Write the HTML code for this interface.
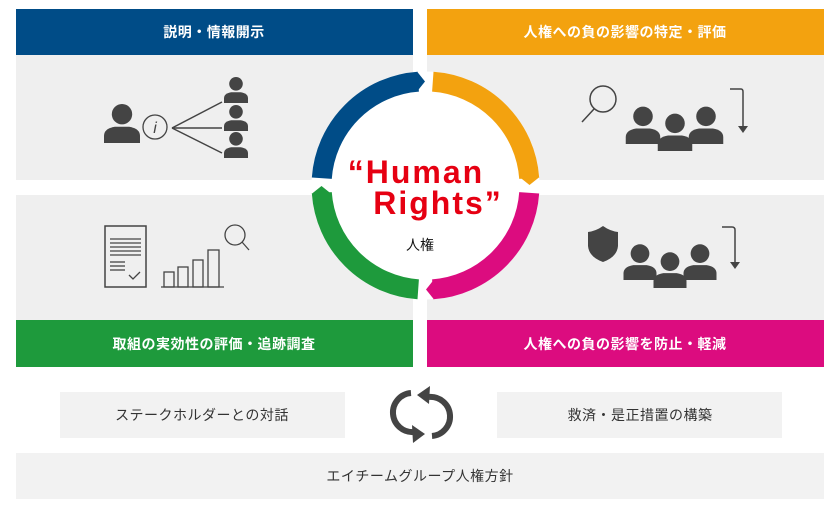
<!DOCTYPE html>
<html><head><meta charset="utf-8"><style>
html,body{margin:0;padding:0;background:#fff;width:840px;height:510px;overflow:hidden}
svg{display:block}
text{font-family:"Liberation Sans","Noto Sans CJK JP",sans-serif}
.h{fill:#fff;font-size:14px;font-weight:bold;text-anchor:middle;letter-spacing:0.5px}
.b{fill:#333;font-size:14px;text-anchor:middle;letter-spacing:0.5px}
</style></head><body>
<svg width="840" height="510" viewBox="0 0 840 510">
<defs>
<g id="p"><circle cx="0" cy="-24" r="8.5" fill="#444"/><path d="M-15,0 L-15,-6 Q-15,-12 -6,-13.5 L6,-13.5 Q15,-12 15,-6 L15,0 Z" fill="#444"/></g>
</defs>
<rect x="16" y="55" width="397" height="125" fill="#efefef"/>
<rect x="427" y="55" width="397" height="125" fill="#efefef"/>
<rect x="16" y="195" width="397" height="125" fill="#efefef"/>
<rect x="427" y="195" width="397" height="125" fill="#efefef"/>
<rect x="16" y="9" width="397" height="46" fill="#004c87"/>
<rect x="427" y="9" width="397" height="46" fill="#f3a20f"/>
<rect x="16" y="320" width="397" height="47" fill="#1e9a3c"/>
<rect x="427" y="320" width="397" height="47" fill="#dc0c7f"/>
<text class="h" x="214" y="37">説明・情報開示</text>
<text class="h" x="625" y="37">人権への負の影響の特定・評価</text>
<text class="h" x="214" y="349">取組の実効性の評価・追跡調査</text>
<text class="h" x="625" y="349">人権への負の影響を防止・軽減</text>
<circle cx="425.5" cy="185.5" r="114" fill="#fff"/>
<g fill="none" stroke-width="20">
<path d="M321.8,178.2 A104,104 0 0 1 418.2,81.7" stroke="#004c87"/>
<path d="M432.8,81.7 A104,104 0 0 1 529.2,178.2" stroke="#f3a20f"/>
<path d="M529.2,192.8 A104,104 0 0 1 432.8,289.3" stroke="#dc0c7f"/>
<path d="M418.2,289.3 A104,104 0 0 1 321.8,192.8" stroke="#1e9a3c"/>
</g>
<polygon points="417,71.5 425,81.5 417,91.5" fill="#004c87"/>
<polygon points="519.5,177 529.5,185 539.5,177" fill="#f3a20f"/>
<polygon points="434,279.5 426,289.5 434,299.5" fill="#dc0c7f"/>
<polygon points="311.5,194 321.5,186 331.5,194" fill="#1e9a3c"/>
<text x="416" y="183" fill="#e60012" font-size="32" font-weight="bold" text-anchor="middle" letter-spacing="2">“Human</text>
<text x="438" y="214" fill="#e60012" font-size="32" font-weight="bold" text-anchor="middle" letter-spacing="2">Rights”</text>
<text x="420" y="250" fill="#111" font-size="14" text-anchor="middle">人権</text>
<use href="#p" transform="translate(122,143) scale(1.2)"/>
<circle cx="155" cy="127" r="12" fill="none" stroke="#444" stroke-width="1.3"/>
<text x="155" y="133" font-size="16" font-style="italic" fill="#444" text-anchor="middle" font-family="Liberation Serif">i</text>
<g stroke="#444" stroke-width="1.5"><line x1="172" y1="128" x2="222" y2="102"/><line x1="172" y1="128" x2="222" y2="128"/><line x1="172" y1="128" x2="222" y2="153"/></g>
<use href="#p" transform="translate(236,103) scale(0.8)"/>
<use href="#p" transform="translate(236,131) scale(0.8)"/>
<use href="#p" transform="translate(236,158) scale(0.8)"/>
<circle cx="603" cy="99" r="13" fill="none" stroke="#444" stroke-width="1.5"/>
<line x1="594" y1="109" x2="582" y2="122" stroke="#444" stroke-width="1.5"/>
<use href="#p" transform="translate(643,144) scale(1.15)"/>
<use href="#p" transform="translate(706,144) scale(1.15)"/>
<use href="#p" transform="translate(675,151) scale(1.15)"/>
<path d="M730,89 L741,89 Q743,89 743,92 L743,127" fill="none" stroke="#444" stroke-width="1.5"/>
<path d="M738,126 L748,126 L743,133 Z" fill="#444"/>
<path d="M603,226 Q596,231 588,232 L588,246 Q589,257 603,262 Q617,257 618,246 L618,232 Q610,231 603,226 Z" fill="#444"/>
<use href="#p" transform="translate(640,280) scale(1.1)"/>
<use href="#p" transform="translate(700,280) scale(1.1)"/>
<use href="#p" transform="translate(670,288) scale(1.1)"/>
<path d="M722,227 L732,227 Q735,227 735,230 L735,263" fill="none" stroke="#444" stroke-width="1.5"/>
<path d="M730,262 L740,262 L735,269 Z" fill="#444"/>
<rect x="105" y="226" width="41" height="61" fill="none" stroke="#444" stroke-width="1.5"/>
<g stroke="#444" stroke-width="1.3">
<line x1="110" y1="239" x2="141" y2="239"/><line x1="110" y1="243" x2="141" y2="243"/><line x1="110" y1="247" x2="141" y2="247"/><line x1="110" y1="251" x2="141" y2="251"/><line x1="110" y1="255" x2="141" y2="255"/>
<line x1="110" y1="262" x2="125" y2="262"/><line x1="110" y1="266" x2="125" y2="266"/><line x1="110" y1="270" x2="125" y2="270"/>
</g>
<path d="M129,275 L133,279 L140,272" fill="none" stroke="#444" stroke-width="1.3"/>
<g fill="none" stroke="#444" stroke-width="1.3">
<rect x="164" y="272" width="10" height="15"/><rect x="178" y="267" width="10" height="20"/><rect x="193" y="260" width="10" height="27"/><rect x="208" y="250" width="11" height="37"/>
<line x1="161" y1="287" x2="224" y2="287"/>
<circle cx="235" cy="235" r="10"/><line x1="242" y1="242" x2="249" y2="250"/>
</g>
<rect x="60" y="392" width="285" height="46" fill="#f2f2f2"/>
<rect x="497" y="392" width="285" height="46" fill="#f2f2f2"/>
<rect x="16" y="453" width="808" height="46" fill="#f2f2f2"/>
<text class="b" x="202" y="420">ステークホルダーとの対話</text>
<text class="b" x="640" y="420">救済・是正措置の構築</text>
<text class="b" x="420" y="481">エイチームグループ人権方針</text>
<g fill="none" stroke="#444" stroke-width="6">
<path d="M411,393 A19,19 0 0 0 414,432"/>
<path d="M432,436 A19,19 0 0 0 429,397"/>
</g>
<path d="M412,425 L425,434 L413,443 Z" fill="#444"/>
<path d="M430,386 L417,395 L429,404 Z" fill="#444"/>
</svg>
</body></html>
